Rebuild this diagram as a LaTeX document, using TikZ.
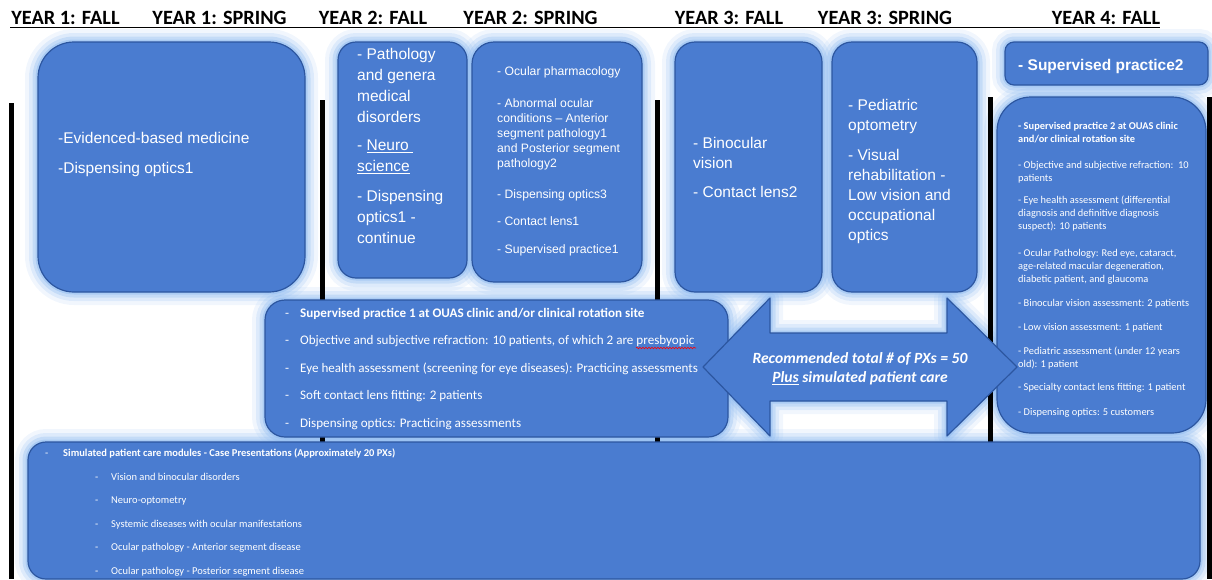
\documentclass[tikz,border=0pt]{standalone}
\usepackage{fontspec}
\setmainfont{Liberation Sans}
\newfontfamily\calf{Carlito}
\usetikzlibrary{decorations.pathmorphing}
\pgfdeclarelayer{bg}
\pgfsetlayers{bg,main}
\definecolor{boxblue}{RGB}{74,124,208}
\definecolor{boxedge}{RGB}{44,86,160}
\definecolor{glowc}{RGB}{140,185,240}
\newcommand\myul[1]{\underline{#1}}
\newcommand\myglow[2]{%
  \foreach \w/\o in {26/0.12,18/0.2,11/0.3,5/0.45}{%
    \draw[draw=glowc, line width=\w pt, draw opacity=\o, rounded corners=#2]
      (#1.north west) rectangle (#1.south east);}}
\tikzset{
  boxnode/.style={draw=boxedge, fill=boxblue, line width=1.2pt, rounded corners=#1,
    anchor=north west, inner sep=0pt, outer sep=0pt},
  txt/.style={text=white, anchor=north west, align=left, inner sep=0pt},
  hdr/.style={font=\calf\bfseries\fontsize{20.3pt}{21pt}\selectfont, anchor=base, inner sep=0pt},
  bar/.style={line width=5pt, black},
  arrowshape/.style={fill=boxblue, draw=boxedge, line width=1.2pt, line join=round},
  spell/.style={draw=red, line width=0.6pt, decorate, decoration={snake, amplitude=0.8pt, segment length=3pt}},
}
\begin{document}
\begin{tikzpicture}[x=1pt,y=-1pt]
\useasboundingbox (0,0) rectangle (1212,579);
% header
\node[hdr] (h1) at (65.5,24) {YEAR 1: FALL};
\node[hdr] (h2) at (219.5,24) {YEAR 1: SPRING};
\node[hdr] (h3) at (373,24) {YEAR 2: FALL};
\node[hdr] (h4) at (530.5,24) {YEAR 2: SPRING};
\node[hdr] (h5) at (729,24) {YEAR 3: FALL};
\node[hdr] (h6) at (885,24) {YEAR 3: SPRING};
\node[hdr] (h7) at (1106,24) {YEAR 4: FALL};
\coordinate (ul1) at (10,27.5);
\coordinate (ul2) at (1160,27.5);
\draw[line width=1.1pt] (ul1) -- (ul2);
% boxes
\node[boxnode=36pt, minimum width=267pt, minimum height=250pt] (y1) at (38,42) {};
\node[boxnode=18pt, minimum width=129pt, minimum height=236pt] (y2f) at (338,42) {};
\node[boxnode=22pt, minimum width=170pt, minimum height=240pt] (y2s) at (472,42) {};
\node[boxnode=20pt, minimum width=147pt, minimum height=250pt] (y3f) at (675,42) {};
\node[boxnode=20pt, minimum width=145pt, minimum height=250pt] (y3s) at (832,42) {};
\node[boxnode=9pt, minimum width=203pt, minimum height=43pt] (sp2) at (1005,42) {};
\node[boxnode=34pt, minimum width=209pt, minimum height=336pt] (y4) at (997,97) {};
\node[boxnode=20pt, minimum width=463pt, minimum height=137pt] (sp1) at (265,300) {};
\node[boxnode=18pt, minimum width=1172pt, minimum height=137pt] (bot) at (28,442) {};
% arrow
\coordinate (a1) at (703,367);
\coordinate (a2) at (770,298);
\coordinate (a3) at (770,333);
\coordinate (a4) at (947,333);
\coordinate (a5) at (947,298);
\coordinate (a6) at (1017,367);
\coordinate (a7) at (947,436);
\coordinate (a8) at (947,401);
\coordinate (a9) at (770,401);
\coordinate (a10) at (770,436);
\draw[arrowshape] (a1) -- (a2) -- (a3) -- (a4) -- (a5) -- (a6) -- (a7) -- (a8) -- (a9) -- (a10) -- cycle;
% glows and bars
\begin{pgfonlayer}{bg}
\myglow{y1}{36pt}
\myglow{y2f}{18pt}
\myglow{y2s}{22pt}
\myglow{y3f}{20pt}
\myglow{y3s}{20pt}
\myglow{sp2}{9pt}
\myglow{y4}{34pt}
\myglow{sp1}{20pt}
\myglow{bot}{18pt}
\foreach \w/\o in {26/0.12,18/0.2,11/0.3,5/0.45}{%
  \draw[draw=glowc, line width=\w pt, draw opacity=\o, line join=round]
    (a1) -- (a2) -- (a3) -- (a4) -- (a5) -- (a6) -- (a7) -- (a8) -- (a9) -- (a10) -- cycle;}
\draw[bar] (11,103) -- (11,579);
\draw[bar] (322,100) -- (322,445);
\draw[bar] (657,100) -- (657,445);
\draw[bar] (990,97) -- (990,445);
\draw[bar] (1209.5,97) -- (1209.5,579);
\end{pgfonlayer}
% texts
\node[txt, font=\fontsize{15.5pt}{20.5pt}\selectfont] (t1) at (58,131.8)
  {-Evidenced-based medicine\\[9.5pt]-Dispensing optics1};
\node[txt, font=\fontsize{15.5pt}{21pt}\selectfont] (t2) at (357,47.8)
  {- Pathology\\ and genera\\ medical\\ disorders\\[7pt] - \myul{Neuro\ }\\ \myul{science}\\[9pt] - Dispensing\\ optics1 -\\ continue};
\node[txt, font=\fontsize{12.2pt}{15pt}\selectfont] (t3) at (497,66.2)
  {- Ocular pharmacology\\[17pt] - Abnormal ocular\\ conditions – Anterior\\ segment pathology1\\ and Posterior segment\\ pathology2\\[16pt] - Dispensing optics3\\[12pt] - Contact lens1\\[13pt] - Supervised practice1};
\node[txt, font=\fontsize{15.5pt}{20pt}\selectfont] (t4) at (693,136.8)
  {- Binocular\\ vision\\[9pt] - Contact lens2};
\node[txt, font=\fontsize{15.5pt}{20pt}\selectfont] (t5) at (848,98.8)
  {- Pediatric\\ optometry\\[10pt] - Visual\\ rehabilitation -\\ Low vision and\\ occupational\\ optics};
\node[txt, font=\bfseries\fontsize{15.5pt}{20pt}\selectfont] (t6) at (1018,58.8)
  {- Supervised practice2};
\node[txt, font=\calf\fontsize{10.4pt}{13pt}\selectfont] (t7) at (1018,121.8)
  {\textbf{- Supervised practice 2 at OUAS clinic}\\ \textbf{and/or clinical rotation site}\\[13pt]
   - Objective and subjective refraction:\ \ 10\\ patients\\[9pt]
   - Eye health assessment (differential\\ diagnosis and definitive diagnosis\\ suspect): 10 patients\\[14pt]
   - Ocular Pathology: Red eye, cataract,\\ age-related macular degeneration,\\ diabetic patient, and glaucoma\\[11pt]
   - Binocular vision assessment: 2 patients\\[11pt]
   - Low vision assessment: 1 patient\\[11pt]
   - Pediatric assessment (under 12 years\\ old): 1 patient\\[10pt]
   - Specialty contact lens fitting: 1 patient\\[12pt]
   - Dispensing optics: 5 customers};
\node[txt, font=\calf\fontsize{13.1pt}{27.5pt}\selectfont] (t8) at (285,308)
  {\makebox[15pt][l]{-}\textbf{Supervised practice 1 at OUAS clinic and/or clinical rotation site}\\
   \makebox[15pt][l]{-}Objective and subjective refraction: 10 patients, of which 2 are presbyopic\\
   \makebox[15pt][l]{-}Eye health assessment (screening for eye diseases): Practicing assessments\\
   \makebox[15pt][l]{-}Soft contact lens fitting: 2 patients\\
   \makebox[15pt][l]{-}Dispensing optics: Practicing assessments};
\coordinate (w1) at (636,348);
\coordinate (w2) at (696,348);
\draw[spell] (w1) -- (w2);
\node[txt, font=\calf\fontsize{10.5pt}{23.5pt}\selectfont] (t9) at (45,448.8)
  {\makebox[18pt][l]{-}\textbf{Simulated patient care modules - Case Presentations (Approximately 20 PXs)}\\
   \hspace*{50pt}\makebox[16pt][l]{-}Vision and binocular disorders\\
   \hspace*{50pt}\makebox[16pt][l]{-}Neuro-optometry\\
   \hspace*{50pt}\makebox[16pt][l]{-}Systemic diseases with ocular manifestations\\
   \hspace*{50pt}\makebox[16pt][l]{-}Ocular pathology - Anterior segment disease\\
   \hspace*{50pt}\makebox[16pt][l]{-}Ocular pathology - Posterior segment disease};
\node[text=white, align=center, inner sep=0pt, font=\calf\bfseries\itshape\fontsize{15.6pt}{19pt}\selectfont] (t10) at (860,369)
  {Recommended total \# of PXs = 50\\ \myul{Plus} simulated patient care};
\end{tikzpicture}
\end{document}
